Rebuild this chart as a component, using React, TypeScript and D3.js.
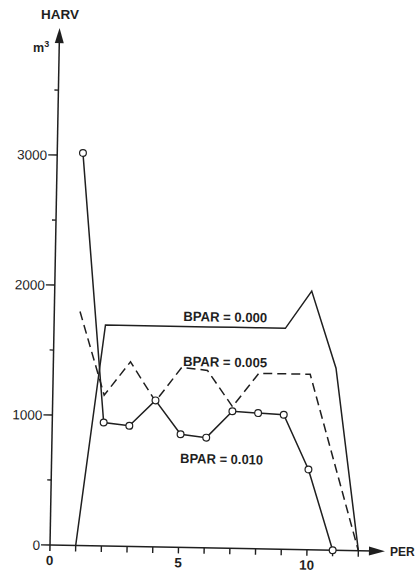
import React from 'react';
import * as d3 from 'd3';

// Periods and harvest (m3) per scenario
const PER_BPAR_000 = [1, 2, 3, 4, 5, 6, 7, 8, 9, 10, 11, 12];
const HARV_BPAR_000 = [0, 1700, 1700, 1700, 1700, 1700, 1700, 1700, 1700, 1990, 1400, 0];
const PER_BPAR_005 = [1, 2, 3, 4, 5, 6, 7, 8, 9, 10, 12];
const HARV_BPAR_005 = [1800, 1160, 1420, 1120, 1385, 1365, 1090, 1350, 1350, 1350, 0];
const PER_BPAR_010 = [1, 2, 3, 4, 5, 6, 7, 8, 9, 10, 11];
const HARV_BPAR_010 = [3020, 950, 928, 1127, 870, 848, 1055, 1044, 1035, 618, 0];

const Y_MAJOR = [0, 1000, 2000, 3000];
const Y_MINOR = [500, 1500, 2500, 3500];
const X_TICKS = [1, 2, 3, 4, 5, 6, 7, 8, 9, 10, 11, 12];
const X_LABELS = [0, 5, 10];
const SERIES_LABELS = ['BPAR = 0.000', 'BPAR = 0.005', 'BPAR = 0.010'];

const INK = '#1f1f1f';
const FONT = '"Liberation Sans", Arial, Helvetica, sans-serif';

export default function App() {
  const W = 416;
  const H = 573;
  const x = d3.scaleLinear().domain([0, 12]).range([50, 358.4]);
  const y = d3.scaleLinear().domain([0, 3000]).range([545, 155]);
  const x0 = x(0);
  const y0 = y(0);

  const line = d3
    .line<[number, number]>()
    .x((d) => x(d[0]))
    .y((d) => y(d[1]));

  const s000 = PER_BPAR_000.map((p, i) => [p, HARV_BPAR_000[i]] as [number, number]);
  const s005 = PER_BPAR_005.map((p, i) => [p, HARV_BPAR_005[i]] as [number, number]);
  const s010 = PER_BPAR_010.map((p, i) => [p, HARV_BPAR_010[i]] as [number, number]);

  const yTop = y0 - 517; // arrow tip
  const xRight = x0 + 335; // arrow tip

  return (
    <svg
      width={W}
      height={H}
      style={{ position: 'absolute', left: 0, top: 0, background: '#fff' }}
    >
      <rect x={0} y={0} width={W} height={H} fill="#fff" />
      {/* axis titles */}
      <text x={60} y={19} textAnchor="middle" fontFamily={FONT} fontWeight="bold" fontSize={13.5} fill={INK}>
        HARV
      </text>
      <text x={33} y={52} fontFamily={FONT} fontWeight="bold" fontSize={12.5} fill={INK}>
        m
        <tspan dy={-5} fontSize={9}>3</tspan>
      </text>
      <text x={390} y={556} fontFamily={FONT} fontWeight="bold" fontSize={12} fill={INK}>
        PER
      </text>

      <g transform={`rotate(1.06, ${x0}, ${y0})`}>
        {/* y axis */}
        <line x1={x0} x2={x0} y1={y0 + 6} y2={yTop + 12} stroke={INK} strokeWidth={1.5} />
        <path d={`M${x0},${yTop} L${x0 - 4.5},${yTop + 15} L${x0 + 4.5},${yTop + 15} Z`} fill={INK} />
        {Y_MAJOR.map((v) => (
          <g key={'ym' + v}>
            <line x1={x0 - 9} x2={x0} y1={y(v)} y2={y(v)} stroke={INK} strokeWidth={1.4} />
            <text
              x={x0 - 10}
              y={y(v) + 5}
              textAnchor="end"
              fontFamily={FONT}
              fontSize={13.5}
              fill={INK}
            >
              {v}
            </text>
          </g>
        ))}
        {Y_MINOR.map((v) => (
          <line key={'yn' + v} x1={x0 - 4} x2={x0} y1={y(v)} y2={y(v)} stroke={INK} strokeWidth={1.3} />
        ))}

        {/* x axis */}
        <line x1={x0} x2={xRight - 12} y1={y0} y2={y0} stroke={INK} strokeWidth={1.5} />
        <path d={`M${xRight},${y0} L${xRight - 16},${y0 - 4.5} L${xRight - 16},${y0 + 4.5} Z`} fill={INK} />
        {X_TICKS.map((t) => (
          <line key={'xt' + t} x1={x(t)} x2={x(t)} y1={y0} y2={y0 + 6} stroke={INK} strokeWidth={1.4} />
        ))}
        {X_LABELS.map((t) => (
          <text
            key={'xl' + t}
            x={x(t)}
            y={y0 + 20}
            textAnchor="middle"
            fontFamily={FONT}
            fontWeight="bold"
            fontSize={13.5}
            fill={INK}
          >
            {t}
          </text>
        ))}

        {/* series */}
        <path d={line(s000) || ''} fill="none" stroke={INK} strokeWidth={1.5} strokeLinejoin="miter" />
        <path d={line(s005) || ''} fill="none" stroke={INK} strokeWidth={1.5} strokeDasharray="9,5" />
        <path d={line(s010) || ''} fill="none" stroke={INK} strokeWidth={1.5} />
        {s010.map((d, i) => (
          <circle key={'c' + i} cx={x(d[0])} cy={y(d[1])} r={3.4} fill="#fff" stroke={INK} strokeWidth={1.2} />
        ))}

        {/* series labels */}
        <text x={179} y={318.5} fontFamily={FONT} fontWeight="bold" fontSize={13.5} fill={INK} textLength={84} lengthAdjust="spacingAndGlyphs">
          {SERIES_LABELS[0]}
        </text>
        <text x={179.7} y={363.5} fontFamily={FONT} fontWeight="bold" fontSize={13.5} fill={INK} textLength={84} lengthAdjust="spacingAndGlyphs">
          {SERIES_LABELS[1]}
        </text>
        <text x={178.5} y={460.6} fontFamily={FONT} fontWeight="bold" fontSize={13.5} fill={INK} textLength={83} lengthAdjust="spacingAndGlyphs">
          {SERIES_LABELS[2]}
        </text>
      </g>
    </svg>
  );
}
